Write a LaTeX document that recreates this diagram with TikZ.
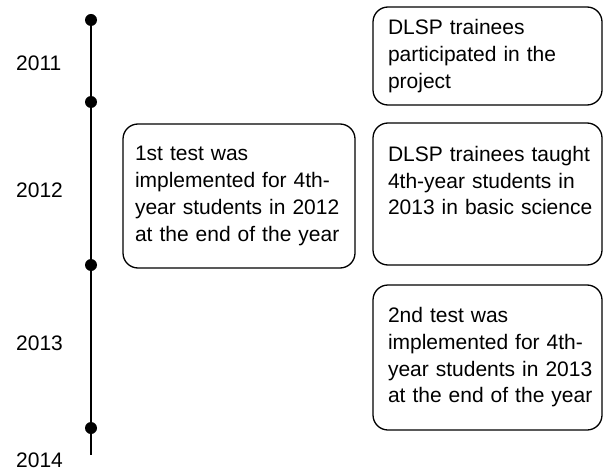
\documentclass[tikz,border=0pt]{standalone}
\usepackage{fontspec}
\setmainfont{Liberation Sans}
\begin{document}
\begin{tikzpicture}[x=1pt,y=-1pt,
  every node/.style={font=\fontsize{21}{26.7}\selectfont},
  eventbox/.style={draw, line width=1.3pt, rounded corners=15pt, align=left,
    inner xsep=6pt, inner ysep=0pt, anchor=center,
    execute at begin node={\hyphenpenalty=10000\leftskip=6pt}},
  dot/.style={circle, fill=black, inner sep=0pt, minimum size=12pt},
  year/.style={anchor=west, inner sep=0pt}]
  \useasboundingbox (0,0) rectangle (604,473);

  % timeline markers
  \node[dot] (d1) at (91,20) {};
  \node[dot] (d2) at (91,102) {};
  \node[dot] (d3) at (91,265) {};
  \node[dot] (d4) at (91,428) {};
  \coordinate (tend) at (91,455);
  \draw[line width=1.3pt] (d1.center) -- (d2.center) -- (d3.center) -- (d4.center) -- (tend);

  % year labels
  \node[year] (y11) at (16,63) {2011};
  \node[year] (y12) at (16,190) {2012};
  \node[year] (y13) at (16,343) {2013};
  \node[year] (y14) at (16,460) {2014};

  % events
  \node[eventbox, text width=220pt, minimum height=144pt] (e1) at (239,196)
    {1st test was\\implemented for 4th-\\year students in 2012\\at the end of the year};
  \node[eventbox, text width=217pt, minimum height=98pt] (e2) at (487.5,56)
    {\hspace*{3pt}DLSP trainees\\\hspace*{3pt}participated in the\\\hspace*{3pt}project};
  \node[eventbox, text width=217pt, minimum height=142pt] (e3) at (487.5,194)
    {\hspace*{3pt}DLSP trainees taught\\\hspace*{3pt}4th-year students in\\\hspace*{3pt}2013 in basic science\\\mbox{}};
  \node[eventbox, text width=217pt, minimum height=145pt] (e4) at (487.5,357.5)
    {\hspace*{3pt}2nd test was\\\hspace*{3pt}implemented for 4th-\\\hspace*{3pt}year students in 2013\\\hspace*{3pt}at the end of the year};
\end{tikzpicture}
\end{document}
